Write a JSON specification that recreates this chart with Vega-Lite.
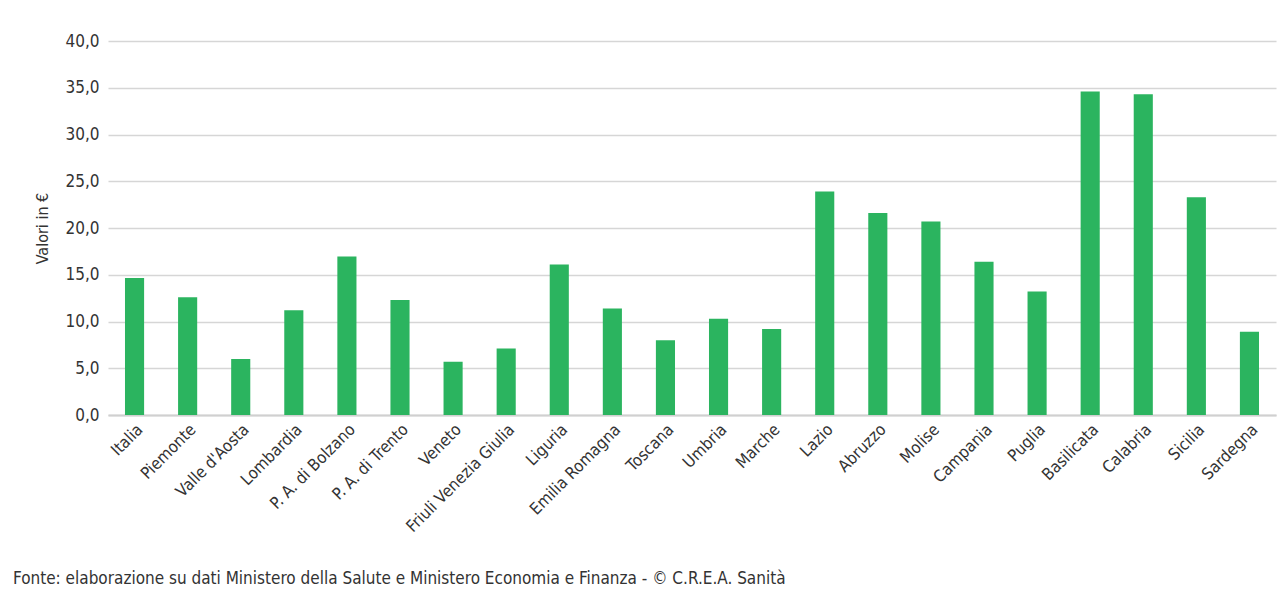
{
  "$schema": "https://vega.github.io/schema/vega-lite/v6.json",
  "width": 1168,
  "height": 374,
  "autosize": "none",
  "padding": {"left": 108, "top": 41, "right": 4, "bottom": 178},
  "background": "white",
  "data": {
    "values": [
      {"regione": "Italia", "valore": 14.65},
      {"regione": "Piemonte", "valore": 12.6},
      {"regione": "Valle d'Aosta", "valore": 6.0},
      {"regione": "Lombardia", "valore": 11.2},
      {"regione": "P. A. di Bolzano", "valore": 16.95},
      {"regione": "P. A. di Trento", "valore": 12.3},
      {"regione": "Veneto", "valore": 5.7},
      {"regione": "Friuli Venezia Giulia", "valore": 7.1},
      {"regione": "Liguria", "valore": 16.1},
      {"regione": "Emilia Romagna", "valore": 11.4},
      {"regione": "Toscana", "valore": 8.0},
      {"regione": "Umbria", "valore": 10.3},
      {"regione": "Marche", "valore": 9.2},
      {"regione": "Lazio", "valore": 23.9},
      {"regione": "Abruzzo", "valore": 21.6},
      {"regione": "Molise", "valore": 20.7},
      {"regione": "Campania", "valore": 16.4},
      {"regione": "Puglia", "valore": 13.2},
      {"regione": "Basilicata", "valore": 34.6},
      {"regione": "Calabria", "valore": 34.3},
      {"regione": "Sicilia", "valore": 23.3},
      {"regione": "Sardegna", "valore": 8.9}
    ]
  },
  "title": {
    "text": "Fonte: elaborazione su dati Ministero della Salute e Ministero Economia e Finanza - © C.R.E.A. Sanità",
    "orient": "bottom",
    "anchor": "start",
    "frame": "bounds",
    "fontSize": 17,
    "fontWeight": "normal",
    "font": "DejaVu Sans Condensed",
    "color": "#333333",
    "dx": -22,
    "offset": 36
  },
  "mark": {"type": "bar", "color": "#2bb45f"},
  "encoding": {
    "x": {
      "field": "regione",
      "type": "nominal",
      "sort": null,
      "scale": {"paddingInner": 0.64, "paddingOuter": 0.32},
      "axis": {
        "title": null,
        "labelAngle": -45,
        "labelAlign": "right",
        "labelBaseline": "top",
        "labelFontSize": 16.5,
        "labelFont": "DejaVu Sans Condensed",
        "labelColor": "#333333",
        "labelPadding": 6,
        "ticks": false,
        "domainColor": "#d0d0d0",
        "domainWidth": 2,
        "grid": false
      }
    },
    "y": {
      "field": "valore",
      "type": "quantitative",
      "scale": {"domain": [0, 40]},
      "axis": {
        "title": "Valori in €",
        "titleFontSize": 16,
        "titleFont": "DejaVu Sans Condensed",
        "titleFontWeight": "normal",
        "titleColor": "#333333",
        "titlePadding": 14,
        "values": [0, 5, 10, 15, 20, 25, 30, 35, 40],
        "format": ".1f",
        "labelExpr": "replace(datum.label, '.', ',')",
        "labelFontSize": 17,
        "labelFont": "DejaVu Sans Condensed",
        "labelColor": "#333333",
        "labelPadding": 9,
        "ticks": false,
        "domain": false,
        "grid": true,
        "gridColor": "#d6d6d6",
        "gridWidth": 1.5
      }
    }
  },
  "config": {"view": {"stroke": null}}
}
